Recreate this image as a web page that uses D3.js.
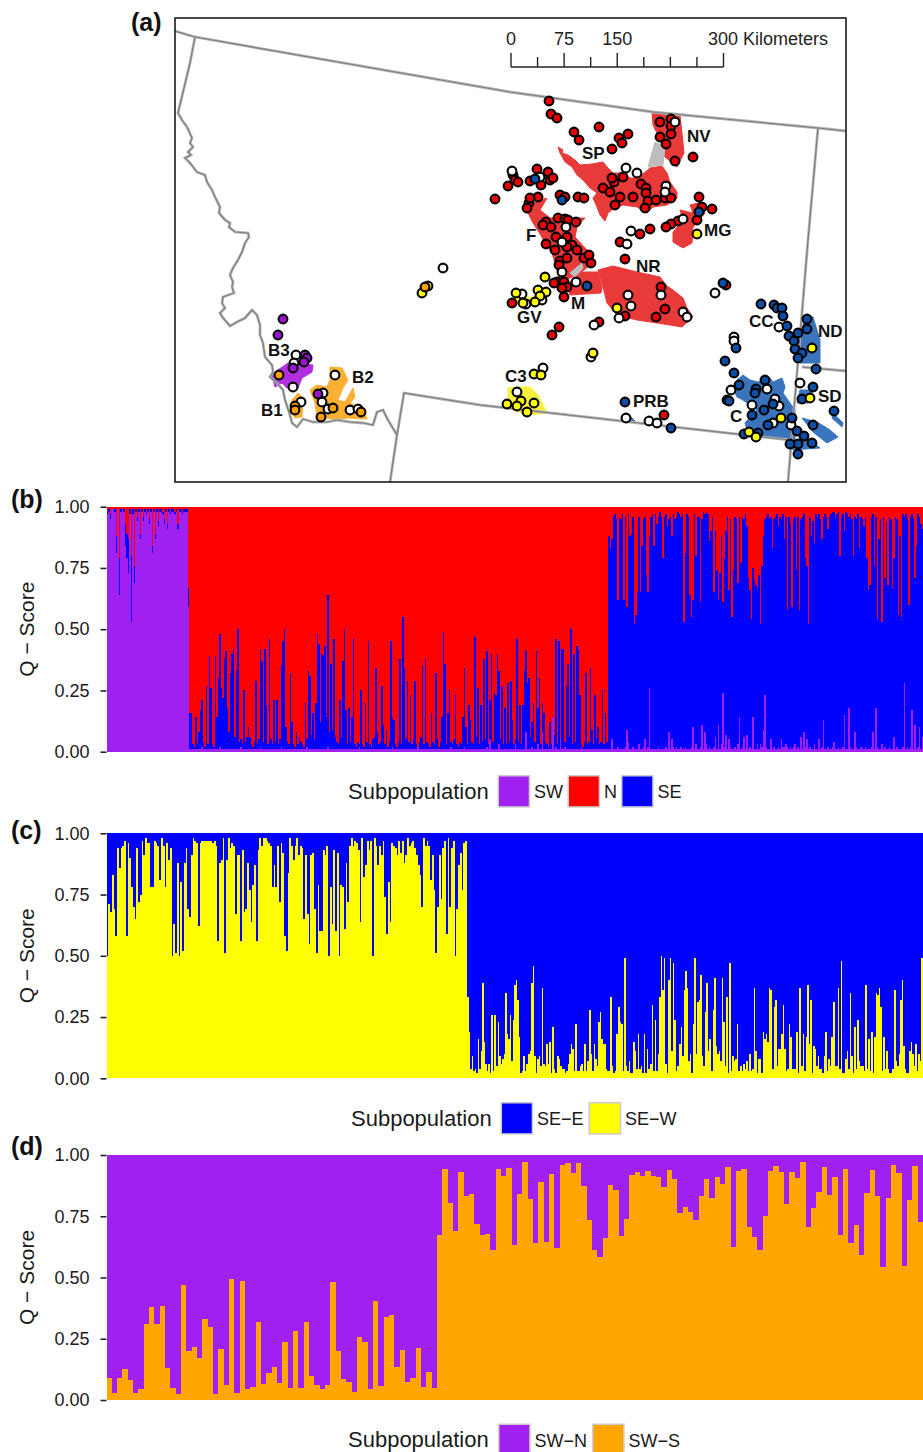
<!DOCTYPE html>
<html>
<head>
<meta charset="utf-8">
<script src="https://cdn.jsdelivr.net/npm/d3@7"></script>
<style>
  body { margin: 0; background: #fff; }
  text { font-family: "Liberation Sans", Arial, sans-serif; }
</style>
</head>
<body>
<div id="chart"></div>
<script>
const font = '"Liberation Sans", Arial, sans-serif';

// Panel (b): cumulative Q-scores in percent, one value per sample, per cluster
const bPurpleSW = [97,98,95,99,99,98,81,99,64,98,99,98,84,79,73,97,53,97,69,98,94,98,87,98,94,98,97,98,93,98,81,98,87,98,92,98,98,97,93,98,91,98,97,98,98,97,98,91,98,98,97,98,98,98,59];
const bBlueSW = [98,99,97,99,99,99,88,99,79,99,99,99,93,89,87,99,80,99,76,99,96,99,89,99,96,99,98,99,95,99,84,99,89,99,94,99,99,98,95,99,93,99,98,99,99,98,99,93,99,99,98,99,99,99,67];
const bPurpleN = [
  1,1,1,1,1,1,1,1,2,1, 1,1,1,1,1,1,1,1,1,1, 2,1,1,1,1,1,1,1,1,1, 1,1,1,1,2,1,1,1,1,1,
  1,1,1,1,1,1,1,2,1,1, 1,1,1,1,1,1,1,1,1,1, 1,2,1,1,1,1,1,1,1,1, 1,1,1,1,1,1,1,1,2,1,
  1,1,1,1,1,1,1,1,1,1, 1,1,2,1,1,1,1,1,1,1, 1,1,1,1,1,1,1,1,1,1, 1,1,1,2,1,1,1,1,1,1,
  1,1,1,1,1,1,1,1,1,1, 1,1,1,1,1,2,1,1,1,1, 1,1,1,1,1,1,1,1,1,1, 1,1,2,1,1,1,1,1,1,1,
  1,1,1,1,1,1,1,1,1,1, 1,1,1,1,2,1,1,1,1,1, 1,1,1,2,1,1,1,1,1,1, 1,1,1,1,1,1,1,1,2,1,
  5,1,1,1,1,1,3,1,1,1, 1,1,1,1,1,1,1,3,1,1, 1,1,1,1,8,1,1,1,2,1, 1,1,3,1,1,8,1,1,1,1,
  1,1,14,1,2,1,1,5,1,1, 2,1,1,1,1,1,1,1,1,1, 1,2,1,1,1,1,1,1,1,1, 1,1,1,1,1,1,1,1,1];
const bBlueN = [
  16,16,3,2,14,3,8,17,21,4, 2,27,3,39,26,3,2,39,14,30, 48,26,22,38,41,18,8,32,40,42, 6,33,50,4,5,3,25,4,6,10,
  6,3,2,4,29,3,5,42,37,4, 42,19,3,46,5,3,21,4,21,3, 5,35,45,50,10,4,3,32,12,3, 2,8,3,6,4,3,2,20,5,33,
  31,7,16,5,20,48,44,12,40,39, 43,14,64,8,36,9,46,6,4,3, 21,6,37,50,17,3,18,4,14,46, 3,2,4,3,25,3,2,20,4,45,
  3,2,5,6,34,8,3,4,27,11, 3,9,2,4,45,14,13,3,2,4, 38,3,55,34,5,29,4,23,3,5, 29,3,2,4,6,35,3,38,4,3,
  2,16,4,3,32,5,2,4,14,49, 36,3,16,25,4,3,5,23,3,2, 4,3,14,34,10,3,19,13,4,3, 47,6,26,3,19,4,38,5,41,3,
  21,40,4,24,23,40,33,5,27,3, 18,3,28,4,29,13,3,5,46,4, 19,3,19,33,41,28,30,6,12,20, 4,41,18,30,3,20,16,4,3,2,
  12,3,4,7,46,3,45,5,42,42, 4,27,36,6,50,3,40,4,43,42, 23,3,2,4,32,3,4,34,9,3, 23,5,10,3,4,25,3,16,4];
const bPurpleSE = [
  1,1,5,1,1,1,2,1,1,1, 1,2,9,4,1,1,2,1,1,1, 3,1,1,2,5,1,2,26,1,1, 1,1,1,2,1,1,1,1,2,1,
  8,1,5,2,1,2,1,1,2,1, 1,2,1,1,1,2,10,1,3,1, 1,2,11,1,8,3,1,2,1,1, 2,6,1,11,1,3,24,2,7,1,
  5,2,1,1,2,1,3,14,1,2, 6,1,7,1,2,1,14,1,1,3, 1,3,2,9,23,2,1,1,5,1, 2,1,1,2,1,5,2,2,3,2,
  1,2,1,2,3,1,2,1,6,1, 8,2,5,1,2,1,1,3,1,1, 5,1,2,13,1,1,2,1,1,2, 4,1,1,2,1,1,2,15,1,1,
  18,2,1,1,8,2,1,1,2,1, 1,2,1,1,1,2,8,1,18,2, 1,1,3,1,2,1,1,2,1,1, 6,1,2,1,1,1,2,28,1,2,
  1,2,17,1,11,1,2,10,1,6];
const bBlueSE = [
  88,83,87,96,97,95,62,96,95,97, 62,96,59,97,88,89,96,52,56,65, 96,65,84,95,96,72,65,88,96,97, 84,97,93,96,98,96,79,96,97,92,
  95,96,88,97,95,96,98,97,96,97, 53,81,97,96,64,55,62,97,80,96, 96,61,95,98,97,98,97,86,90,96, 65,90,74,62,73,88,61,79,90,96,
  66,95,55,74,96,95,69,96,77,96, 95,97,92,71,66,54,75,70,68,67, 72,52,76,88,95,96,97,95,96,83, 95,96,97,92,96,95,97,87,96,58,
  96,93,59,95,96,74,96,58,95,96, 97,79,76,52,96,88,94,85,97,96, 97,95,87,96,97,96,91,96,97,98, 98,96,97,98,80,96,97,90,98,97,
  96,97,95,80,96,95,97,83,96,95, 92,96,79,66,68,96,97,76,96,54, 87,95,53,96,71,94,68,96,95,67, 79,96,95,56,88,55,97,96,97,95,
  60,96,97,95,71,84,97,96,93,91];

// Panel (c): SE-W (yellow) share in percent
const cYellowW = [
  50,71,68,83,69,58,94,86,94,95, 97,58,96,90,78,70,65,94,72,75, 97,91,98,96,96,78,78,97,96,95, 81,98,95,78,96,89,94,50,63,51,
  88,50,80,52,88,94,69,66,91,98, 97,96,62,96,97,97,97,97,97,97, 96,97,95,56,88,89,98,51,89,98, 94,96,95,67,91,91,56,93,68,69,
  88,77,64,79,87,56,93,98,95,98, 98,97,96,95,78,87,78,95,72,96, 92,58,52,84,98,95,89,95,98,91, 95,94,65,91,67,55,91,92,69,51,
  79,60,60,93,91,95,50,78,63,93, 60,92,50,79,78,61,88,72,95,98, 95,97,96,93,64,98,82,87,97,93, 97,50,98,95,87,95,91,97,74,59,
  80,64,96,95,94,91,97,92,97,88, 91,98,95,96,97,94,91,87,83,70, 98,95,97,95,81,91,77,51,70,91, 73,94,97,59,98,70,94,97,50,69,
  87,92,77,96,97];
const cYellowE = [
  33,19,4,9,3,4,2,16,4,11, 39,15,6,3,6,2,26,3,26,5, 23,9,6,8,10,35,18,16,26,7, 24,38,40,32,17,2,3,9,3,6,
  10,11,39,46,9,2,8,9,5,37, 6,5,14,6,15,2,21,4,2,9, 8,5,4,4,2,3,6,10,14,12, 3,22,3,3,5,6,3,14,3,7,
  28,10,3,14,8,5,23,27,16,14, 14,4,3,3,33,5,2,3,18,29, 23,22,3,49,5,3,7,2,2,15, 11,4,18,4,5,2,18,2,12,4,
  6,30,3,24,3,10,33,50,36,49, 6,2,40,49,11,47,24,3,5,14, 21,9,36,44,37,7,10,2,22,49, 10,31,32,42,9,5,27,39,11,16,
  3,28,41,13,10,11,7,41,23,5, 33,2,47,3,9,7,8,22,3,5, 3,6,4,7,3,10,3,4,37,11, 2,8,8,2,19,16,18,15,37,36,
  4,29,32,5,12,12,18,30,12,3, 4,22,17,4,4,4,19,2,37,5, 18,3,17,38,14,32,2,13,12,5, 9,4,4,2,9,19,3,8,5,17,
  31,5,5,37,4,48,2,2,8,11, 4,35,9,2,21,4,24,7,5,5, 3,38,4,16,3,19,2,17,35,34, 37,29,3,17,4,11,4,2,2,4,
  36,7,5,10,32,40,13,4,2,2, 11,15,10,5,14,3,10,7,49];

// Panel (d): SW-S (orange) share in percent
const dOrangeN = [9,3,9,12.5,8,3,4.5,31,38,31,38.5,13,5,2.5,47,20,21.5,17,33,30,2.5,21,6,49.5,3,48.5,4.5,5.5,32,6.5,11,13.5,7,23.5,5,28,5,32,10,6,4.5,6,48,20,8.5,7.5,3.3,25.7,23.7,4.5,40.5,5.7,34,34.7,13.5,20.5,7.3,9,21.2,5.3,11.4,5];
const dOrangeS = [67.3,94.3,80.4,69,93,83.3,84,71.8,67.3,67.8,61.2,94.3,91.4,94.7,63.3,84,97,82,64,89,64.5,92.2,62,96,96.7,92.6,96.7,87.3,73.5,61.2,58.4,66,87.8,85.7,67,74,91.8,93,91.4,93.5,91.4,91,87,93.9,90.2,76.3,78.8,76.7,73.5,83.3,90.2,82.4,91,88.2,95.1,62.4,93.5,94.3,70.6,66.5,61.2,75.1,93.5,95.5,93,80,93,90.6,97,70.6,78.4,84.9,95.1,83.7,91,67.3,94.3,64,71.4,59.2,84.5,93.9,83.3,54.3,82.4,96,92.6,54.7,81.6,95.5,72.7];

const qTicks = [0, 0.25, 0.5, 0.75, 1];
const bLegend = [{label: 'SW', color: '#A020F0'}, {label: 'N', color: '#FF0000'}, {label: 'SE', color: '#0000FF'}];
const cLegend = [{label: 'SE\u2212E', color: '#0000FF'}, {label: 'SE\u2212W', color: '#FFFF00'}];
const dLegend = [{label: 'SW\u2212N', color: '#A020F0'}, {label: 'SW\u2212S', color: '#FFA500'}];

// Map layers, in map units from the panel's top left corner
const borderLines = [
  [[0,13],[20,19],[335,74],[478,94],[643,110],[671,113]],
  [[20,19],[15,45],[3,95],[7,102],[12,109],[17,120],[15,125],[18,129],[13,134],[16,137],[10,140],[15,145],[22,154],[30,157],[32,164],[37,172],[40,179],[45,189],[44,195],[50,202],[55,205],[54,209],[60,214],[73,215],[74,219],[70,225],[67,234],[63,242],[58,250],[55,257],[58,264],[57,269],[59,275],[48,279],[47,285],[50,290],[45,295],[48,300],[55,308],[62,304],[70,300],[77,292],[82,297],[85,307],[85,317],[88,325],[90,339],[97,347],[98,354],[95,359],[102,365],[108,372],[110,382],[115,397],[117,405],[122,409],[128,401],[138,404],[152,404],[162,402],[175,404],[188,405],[198,407],[202,394],[208,392],[213,402],[222,417]],
  [[215,464],[222,417],[229,375],[305,387],[455,404],[615,422]],
  [[643,110],[633,222],[613,464]],
  [[627,349],[671,353]]
];
const redAreas = [
  [[383,129],[388,132],[387,135],[393,137],[400,142],[405,147],[417,146],[428,144],[433,150],[438,155],[448,155],[455,160],[463,160],[475,150],[487,148],[492,155],[495,164],[502,174],[502,180],[492,187],[478,189],[472,195],[462,189],[448,187],[438,191],[433,195],[430,203],[425,197],[422,189],[418,180],[422,175],[415,170],[408,162],[402,157],[397,149],[390,144],[385,135]],
  [[477,94],[505,97],[508,125],[509,135],[502,149],[490,139],[487,124],[482,115],[478,107]],
  [[505,192],[518,195],[515,187],[527,184],[530,195],[518,209],[517,225],[508,230],[498,224],[498,214],[508,202]],
  [[353,195],[358,185],[372,180],[365,192],[375,200],[410,200],[402,209],[400,219],[412,232],[418,235],[418,245],[405,255],[385,265],[382,252],[377,235],[368,222],[367,219],[358,205]],
  [[405,254],[423,254],[427,270],[426,275],[395,277],[392,267]],
  [[423,252],[438,248],[462,254],[485,259],[492,268],[498,272],[508,280],[512,290],[518,299],[507,309],[495,307],[482,305],[462,302],[442,297],[432,285],[428,269]]
];
const greyAreas = [
  [[480,124],[490,129],[488,147],[473,149]],
  [[395,255],[407,245],[408,250],[400,259]]
];
const yellowAreas = [
  [[355,279],[372,279],[371,285],[345,288],[338,280]],
  [[333,370],[343,369],[355,369],[363,377],[372,395],[355,397],[338,392],[333,380]]
];
const blueAreas = [
  [[630,297],[638,299],[645,322],[645,345],[625,345],[625,322]],
  [[568,357],[575,362],[583,364],[595,360],[598,364],[607,360],[610,369],[608,375],[615,385],[620,392],[620,409],[620,422],[612,422],[592,419],[572,412],[570,405],[575,399],[582,392],[575,387],[568,382],[562,379],[558,370],[562,362]],
  [[625,372],[638,372],[633,385],[622,385]],
  [[627,400],[642,404],[655,412],[663,419],[652,425],[638,414]],
  [[658,395],[668,405],[667,409],[657,400]],
  [[612,422],[635,422],[645,430],[615,432]],
  [[452,395],[462,405],[455,404]]
];
const orangeAreas = [
  [[155,349],[167,350],[173,362],[168,370],[163,382],[170,384],[178,370],[180,379],[175,385],[183,389],[190,394],[192,401],[172,400],[162,402],[152,400],[142,399],[140,385],[135,372],[142,367],[152,369],[155,362]],
  [[117,382],[123,375],[128,380],[127,399],[120,400],[115,392]]
];
const purpleAreas = [
  [[97,357],[103,352],[113,345],[120,345],[138,347],[137,354],[127,360],[123,370],[112,370],[107,365],[100,369]]
];

const redSites = [[320,181],[333,168],[338,157],[340,162],[343,164],[355,163],[362,151],[373,154],[375,162],[378,160],[366,167],[374,83],[376,96],[382,100],[399,114],[404,122],[424,109],[444,120],[447,125],[453,116],[437,131],[485,104],[496,101],[496,108],[496,116],[485,119],[491,126],[500,143],[518,139],[448,159],[439,164],[428,170],[435,174],[445,179],[440,187],[458,179],[466,166],[471,170],[471,175],[473,183],[481,182],[490,180],[496,180],[470,190],[437,160],[385,177],[390,179],[403,179],[409,180],[354,185],[363,179],[355,180],[352,190],[383,200],[390,201],[393,202],[401,204],[371,204],[368,207],[376,209],[381,219],[392,219],[371,226],[397,227],[524,179],[527,189],[537,191],[522,202],[503,203],[496,206],[491,209],[465,216],[475,211],[445,224],[380,232],[392,229],[402,232],[409,240],[414,237],[416,245],[385,243],[392,240],[384,247],[382,264],[389,264],[379,265],[392,269],[387,270],[389,279],[450,241],[337,285],[384,309],[377,317],[424,304],[486,269],[490,291],[481,299],[450,298],[551,267],[489,397]];
const whiteSites = [[337,153],[451,150],[462,155],[491,168],[490,174],[500,104],[456,213],[452,226],[508,201],[391,209],[387,224],[365,159],[387,254],[401,264],[453,277],[456,288],[444,300],[486,277],[508,294],[512,299],[540,275],[419,307],[416,339],[368,350],[342,374],[347,276],[351,286],[367,282],[559,319],[559,323],[451,400],[474,403],[482,405],[625,365],[604,309],[556,372],[592,371],[600,381],[604,388],[577,387],[598,405],[616,407],[121,337],[119,345],[118,369],[126,384],[160,357],[148,375],[147,384],[153,391],[175,392],[183,391],[268,250]];
const yellowSites = [[522,216],[370,259],[341,275],[363,272],[371,274],[365,278],[360,284],[348,285],[442,290],[418,335],[359,356],[366,357],[332,386],[346,383],[359,385],[352,394],[342,388],[635,380],[606,400],[574,414],[581,419],[637,330],[253,268],[247,275]];
const blueSites = [[360,161],[387,182],[524,194],[412,268],[450,384],[496,410],[548,265],[586,286],[599,287],[602,290],[607,290],[608,298],[612,308],[632,301],[632,311],[623,315],[614,318],[619,323],[620,331],[627,335],[623,340],[561,330],[550,343],[559,355],[641,351],[564,367],[590,362],[581,371],[580,375],[552,382],[554,383],[598,386],[589,392],[577,397],[593,407],[617,400],[622,413],[629,418],[637,425],[623,426],[615,426],[623,436],[638,407],[659,393],[638,369],[627,381],[569,416],[583,415]];
const orangeSites = [[104,357],[120,388],[120,392],[158,390],[146,399],[186,394],[250,269]];
const purpleSites = [[108,301],[103,317],[130,337],[132,340],[129,344],[118,350],[143,376]];

const mapLabels = [
  {text: 'NV', x: 512, y: 124}, {text: 'SP', x: 407, y: 141}, {text: 'MG', x: 529, y: 218},
  {text: 'F', x: 351, y: 223}, {text: 'NR', x: 461, y: 254}, {text: 'M', x: 396, y: 291},
  {text: 'GV', x: 342, y: 305}, {text: 'CC', x: 574, y: 309}, {text: 'ND', x: 643, y: 319},
  {text: 'C3', x: 330, y: 364}, {text: 'PRB', x: 458, y: 389}, {text: 'SD', x: 643, y: 384},
  {text: 'C', x: 555, y: 404}, {text: 'B3', x: 93, y: 338}, {text: 'B2', x: 177, y: 365},
  {text: 'B1', x: 86, y: 398}
];
const scaleTicks = [0, 37.5, 75, 112.5, 150, 187.5, 225, 262.5, 300];
const scaleLabels = [0, 75, 150, 300];

const svg = d3.select('#chart').append('svg')
  .attr('width', 923)
  .attr('height', 1452)
  .style('display', 'block');

// ---- (a) map ----
const panel = {left: 175, top: 18, width: 671, height: 464};
const mapX = d3.scaleLinear().domain([0, panel.width]).range([panel.left, panel.left + panel.width]);
const mapY = d3.scaleLinear().domain([0, panel.height]).range([panel.top, panel.top + panel.height]);

svg.append('defs').append('clipPath').attr('id', 'map-clip')
  .append('rect')
  .attr('x', panel.left).attr('y', panel.top)
  .attr('width', panel.width).attr('height', panel.height);

const map = svg.append('g').attr('clip-path', 'url(#map-clip)');
const areaPath = d3.line().x(d => mapX(d[0])).y(d => mapY(d[1])).curve(d3.curveLinearClosed);
const borderPath = d3.line().x(d => mapX(d[0])).y(d => mapY(d[1]));

[[redAreas, '#E93A3A'], [greyAreas, '#BDBDBD'], [yellowAreas, '#F7F03C'], [blueAreas, '#3A74BC'],
 [orangeAreas, '#FBB034'], [purpleAreas, '#B12FE0']].forEach(([areas, color]) => {
  map.selectAll(null).data(areas).enter().append('path')
    .attr('d', areaPath)
    .attr('fill', color)
    .attr('stroke', color)
    .attr('stroke-width', 1);
});

[['#B4B4B4', 2.8], ['#808080', 1.2]].forEach(([color, w]) => {
  map.selectAll(null).data(borderLines).enter().append('path')
    .attr('d', borderPath)
    .attr('fill', 'none')
    .attr('stroke', color)
    .attr('stroke-width', w);
});

[[redSites, '#E60000'], [whiteSites, '#FFFFFF'], [blueSites, '#0C4EA6'], [yellowSites, '#FFFF00'],
 [orangeSites, '#FF9F00'], [purpleSites, '#A010D0']].forEach(([sites, color]) => {
  map.selectAll(null).data(sites).enter().append('circle')
    .attr('cx', d => mapX(d[0]))
    .attr('cy', d => mapY(d[1]))
    .attr('r', 4.4)
    .attr('fill', color)
    .attr('stroke', '#000')
    .attr('stroke-width', 2.1);
});

map.selectAll(null).data(mapLabels).enter().append('text')
  .attr('x', d => mapX(d.x))
  .attr('y', d => mapY(d.y))
  .style('font-size', '17px')
  .style('font-weight', 'bold')
  .attr('fill', '#111')
  .text(d => d.text);

svg.append('rect')
  .attr('x', panel.left).attr('y', panel.top)
  .attr('width', panel.width).attr('height', panel.height)
  .attr('fill', 'none')
  .attr('stroke', '#1a1a1a')
  .attr('stroke-width', 1.6);

// Scale bar
const kmScale = d3.scaleLinear().domain([0, 300]).range([511, 723.5]);
svg.append('line')
  .attr('x1', kmScale(0)).attr('x2', kmScale(300))
  .attr('y1', 67).attr('y2', 67)
  .attr('stroke', '#222').attr('stroke-width', 1.4);
svg.selectAll(null).data(scaleTicks).enter().append('line')
  .attr('x1', d => kmScale(d)).attr('x2', d => kmScale(d))
  .attr('y1', d => scaleLabels.includes(d) ? 53 : 57)
  .attr('y2', 67)
  .attr('stroke', '#222').attr('stroke-width', 1.4);
svg.selectAll(null).data(scaleLabels).enter().append('text')
  .attr('x', d => kmScale(d) - (d === 300 ? 15.5 : 0))
  .attr('y', 44.5)
  .attr('text-anchor', d => d === 300 ? 'start' : 'middle')
  .style('font-size', '18px')
  .attr('fill', '#222')
  .text(d => d === 300 ? '300 Kilometers' : d);

// ---- Q-score panels ----
function drawQPanel(opts) {
  const y = d3.scaleLinear().domain([0, 1]).range([opts.y0, opts.y1]);
  // samples per cluster map onto the pixel extent of that cluster
  let n = 0;
  const domain = [0].concat(opts.groupSizes.map(s => (n += s)));
  const x = d3.scaleLinear().domain(domain).range(opts.groupEdges);

  const stacked = d3.stack().keys(opts.keys)(opts.rows);
  const g = svg.append('g').attr('shape-rendering', 'crispEdges');
  stacked.forEach(layer => {
    g.selectAll(null).data(layer).enter().append('rect')
      .attr('x', (d, i) => x(i))
      .attr('width', (d, i) => x(i + 1) - x(i))
      .attr('y', d => y(d[1] / 100))
      .attr('height', d => Math.max(0, y(d[0] / 100) - y(d[1] / 100)))
      .attr('fill', opts.colors[layer.key]);
  });

  const axis = svg.append('g')
    .attr('transform', `translate(${opts.groupEdges[0]},0)`)
    .call(d3.axisLeft(y).tickValues(qTicks).tickFormat(d3.format('.2f')).tickSize(6).tickPadding(11));
  axis.select('.domain').remove();
  axis.selectAll('line').attr('stroke', '#222').attr('stroke-width', 1.6);
  axis.selectAll('text').attr('fill', '#1a1a1a').style('font-size', '18px').style('font-family', font);

  svg.append('text')
    .attr('transform', `translate(34,${(opts.y0 + opts.y1) / 2}) rotate(-90)`)
    .attr('text-anchor', 'middle')
    .style('font-size', '21px')
    .attr('fill', '#1a1a1a')
    .text('Q \u2212 Score');

  svg.append('text')
    .attr('x', 11)
    .attr('y', opts.letterY)
    .style('font-size', '25px')
    .style('font-weight', 'bold')
    .attr('fill', '#111')
    .text(opts.letter);

  svg.append('text')
    .attr('x', opts.legendX)
    .attr('y', opts.legendY)
    .style('font-size', '22px')
    .attr('fill', '#1a1a1a')
    .text('Subpopulation');

  opts.legend.forEach((item, i) => {
    svg.append('rect')
      .attr('x', opts.swatchX[i] + 0.75)
      .attr('y', opts.swatchY + 0.75)
      .attr('width', 31.2)
      .attr('height', 31.2)
      .attr('fill', item.color)
      .attr('stroke', '#CCCCCC')
      .attr('stroke-width', 1.5);
    svg.append('text')
      .attr('x', opts.swatchX[i] + 36.5)
      .attr('y', opts.swatchY + 23)
      .style('font-size', '18px')
      .attr('fill', '#1a1a1a')
      .text(item.label);
  });
}

// (b) three clusters
const bPurple = bPurpleSW.concat(bPurpleN, bPurpleSE);
const bBlue = bBlueSW.concat(bBlueN, bBlueSE);
const bRows = bPurple.map((p, i) => ({SW: p, SE: Math.max(0, bBlue[i] - p), N: 100 - Math.max(bBlue[i], p)}));
drawQPanel({
  y0: 751.7, y1: 506.7, letter: '(b)', letterY: 508,
  groupSizes: [bPurpleSW.length, bPurpleN.length, bPurpleSE.length],
  groupEdges: [106.5, 189, 608, 923],
  rows: bRows, keys: ['SW', 'SE', 'N'],
  colors: {SW: '#A020F0', SE: '#0000FF', N: '#FF0000'},
  legend: bLegend, legendX: 348, legendY: 798.5,
  swatchX: [497.5, 567.5, 621], swatchY: 775
});

// (c) SE split
const cRows = cYellowW.concat(cYellowE).map(v => ({W: v, E: 100 - v}));
drawQPanel({
  y0: 1078.3, y1: 833.3, letter: '(c)', letterY: 839,
  groupSizes: [cYellowW.length, cYellowE.length],
  groupEdges: [106.5, 467, 923],
  rows: cRows, keys: ['W', 'E'],
  colors: {W: '#FFFF00', E: '#0000FF'},
  legend: cLegend, legendX: 351, legendY: 1125.5,
  swatchX: [500.5, 588.5], swatchY: 1102
});

// (d) SW split
const dRows = dOrangeN.concat(dOrangeS).map(v => ({S: v, N: 100 - v}));
drawQPanel({
  y0: 1400, y1: 1155, letter: '(d)', letterY: 1155,
  groupSizes: [dOrangeN.length, dOrangeS.length],
  groupEdges: [106.5, 437, 923],
  rows: dRows, keys: ['S', 'N'],
  colors: {S: '#FFA500', N: '#A020F0'},
  legend: dLegend, legendX: 348, legendY: 1446.5,
  swatchX: [498, 592], swatchY: 1423.5
});

// (a) letter
svg.append('text')
  .attr('x', 131)
  .attr('y', 31)
  .style('font-size', '25px')
  .style('font-weight', 'bold')
  .attr('fill', '#111')
  .text('(a)');
</script>
</body>
</html>
